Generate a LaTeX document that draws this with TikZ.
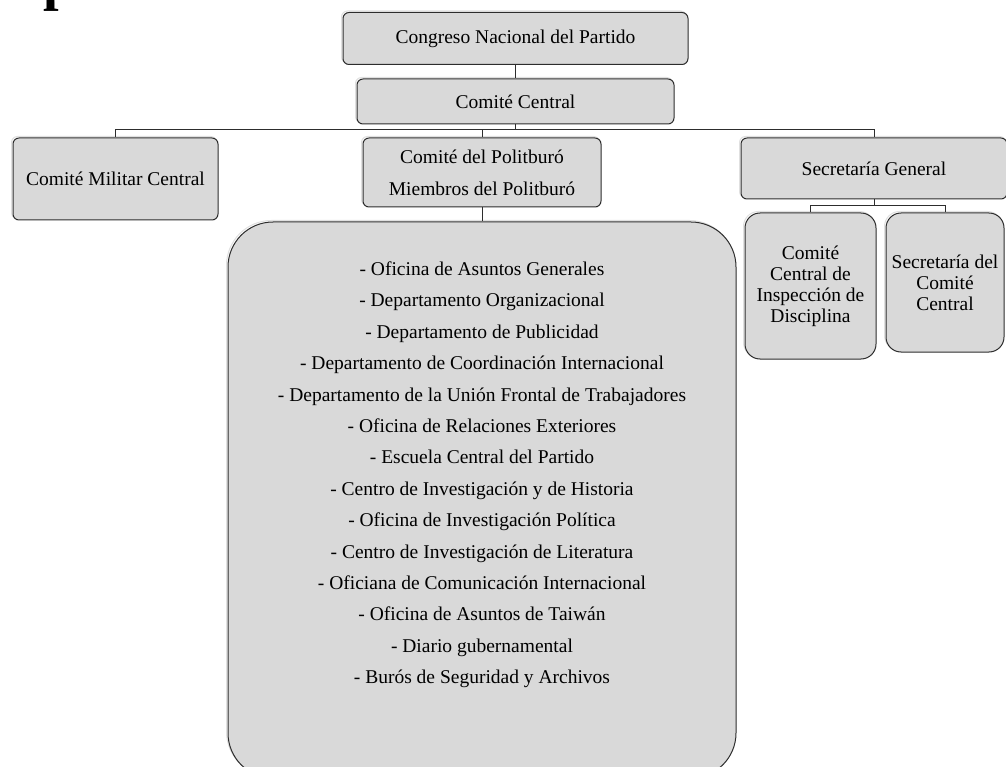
\documentclass[tikz,border=0pt]{standalone}
\usepackage{fontspec}
\setmainfont{Liberation Serif}
\usetikzlibrary{shadows}
\definecolor{boxgray}{RGB}{217,217,217}
\definecolor{boxline}{RGB}{45,45,45}
\begin{document}
\begin{tikzpicture}[x=1pt, y=-1pt,
	orgbox/.style={draw=boxline, line width=1pt, fill=boxgray, rounded corners=6pt, align=center, inner sep=2pt,
		drop shadow={shadow xshift=-1.5pt, shadow yshift=1.5pt, fill=white, draw=black!12, opacity=1},
		font=\fontsize{19.5}{23}\selectfont},
	link/.style={draw=boxline, line width=0.9pt}]
	\useasboundingbox (0,0) rectangle (1006,767);

	% cut-off heading
	\node[anchor=base west, inner sep=0pt, font=\fontsize{56}{56}\selectfont\bfseries] (head) at (43,0) {p};

	% Congreso
	\node[orgbox, minimum width=345, minimum height=52] (cong) at (515.5,38.5) {Congreso Nacional del Partido};

	% Comite Central
	\node[orgbox, minimum width=317, minimum height=45] (cc) at (515.5,101.5) {Comité Central};
	\draw[link] (cong) -- (cc);

	% three branches
	\node[orgbox, minimum width=205, minimum height=82] (mil) at (115.5,179) {Comité Militar Central};
	\node[orgbox, minimum width=238, minimum height=69, font=\fontsize{19.5}{32}\selectfont] (pol) at (482,172.5) {Comité del Politburó\\Miembros del Politburó};
	\node[orgbox, minimum width=266, minimum height=61] (sg) at (874,168.5) {Secretaría General};
	\draw[link] (cc.south) -- ++(0,5) -| (mil.north);
	\draw[link] (cc.south) -- ++(0,5) -| (pol.north);
	\draw[link] (cc.south) -- ++(0,5) -| (sg.north);

	% departments
	\node[orgbox, rounded corners=45pt, minimum width=508, minimum height=556, text depth=0pt,
		font=\fontsize{19.5}{31.4}\selectfont] (dept) at (482,500) {%
		- Oficina de Asuntos Generales\\
		- Departamento Organizacional\\
		- Departamento de Publicidad\\
		- Departamento de Coordinación Internacional\\
		- Departamento de la Unión Frontal de Trabajadores\\
		- Oficina de Relaciones Exteriores\\
		- Escuela Central del Partido\\
		- Centro de Investigación y de Historia\\
		- Oficina de Investigación Política\\
		- Centro de Investigación de Literatura\\
		- Oficiana de Comunicación Internacional\\
		- Oficina de Asuntos de Taiwán\\
		- Diario gubernamental\\
		- Burós de Seguridad y Archivos\\[23pt]\mbox{}};
	\draw[link] (pol) -- (dept);

	% Secretaria children
	\node[orgbox, rounded corners=15pt, minimum width=131, minimum height=146, font=\fontsize{19.5}{21}\selectfont] (insp) at (810.5,286) {Comité\\Central de\\Inspección de\\Disciplina};
	\node[orgbox, rounded corners=15pt, minimum width=118, minimum height=139, font=\fontsize{19.5}{21}\selectfont] (secc) at (945,282.5) {Secretaría del\\Comité\\Central};
	\draw[link] (sg.south) -- ++(0,6) -| (insp.north);
	\draw[link] (sg.south) -- ++(0,6) -| (secc.north);
\end{tikzpicture}
\end{document}
